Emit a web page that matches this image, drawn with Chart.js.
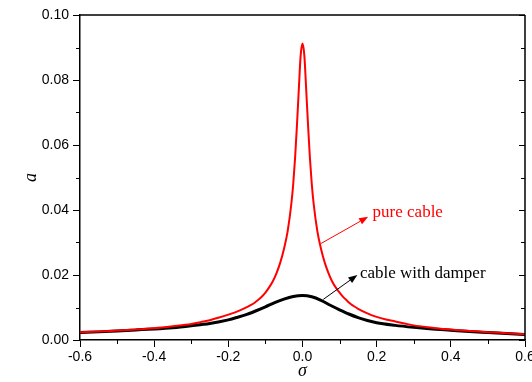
<!DOCTYPE html>
<html><head><meta charset="utf-8">
<script src="https://cdn.jsdelivr.net/npm/chart.js@4/dist/chart.umd.min.js"></script>
<style>html,body{margin:0;padding:0;background:#fff}</style>
</head><body>
<canvas id="c" width="532" height="382"></canvas>
<script>
// ---- data ----
const sigmaPure = [-0.6,-0.55,-0.5,-0.45,-0.4,-0.35,-0.3,-0.275,-0.25,-0.225,-0.2,-0.175,-0.15,-0.14,-0.13,-0.12,-0.11,-0.1,-0.09,-0.08,-0.07,-0.06,-0.05,-0.04,-0.03,-0.025,-0.02,-0.015,-0.01,-0.005,0,
  0.005,0.01,0.015,0.02,0.025,0.03,0.04,0.05,0.06,0.07,0.08,0.09,0.1,0.11,0.12,0.13,0.14,0.15,0.175,0.2,0.225,0.25,0.275,0.3,0.35,0.4,0.45,0.5,0.55,0.6];
const aPure = [0.0024,0.0026,0.0029,0.0032,0.0036,0.0042,0.0049,0.0055,0.0061,0.0069,0.0078,0.0088,0.0101,0.0107,0.0114,0.0123,0.0133,0.0146,0.0162,0.0181,0.0206,0.0238,0.0280,0.0335,0.0420,0.0480,0.0560,0.0660,0.0770,0.0875,0.0912,
  0.0875,0.0770,0.0660,0.0560,0.0480,0.0420,0.0335,0.0280,0.0238,0.0206,0.0180,0.0161,0.0146,0.0132,0.0121,0.0111,0.0103,0.0096,0.0082,0.0071,0.0063,0.0057,0.0051,0.0045,0.0038,0.0032,0.0028,0.0024,0.0021,0.0018];
const sigmaDamper = [-0.6,-0.55,-0.5,-0.45,-0.4,-0.35,-0.3,-0.25,-0.2,-0.175,-0.15,-0.125,-0.1,-0.075,-0.05,-0.025,0,0.025,0.05,0.075,0.1,0.125,0.15,0.175,0.2,0.25,0.3,0.35,0.4,0.45,0.5,0.55,0.6];
const aDamper = [0.0023,0.0025,0.0028,0.0031,0.0034,0.0038,0.0044,0.0051,0.0062,0.0070,0.0079,0.0090,0.0102,0.0115,0.0126,0.0134,0.0137,0.0133,0.0122,0.0107,0.0093,0.0080,0.0069,0.0060,0.0053,0.0045,0.0039,0.0034,0.0030,0.0026,0.0023,0.0020,0.0017];
const xTicksMinor = [-0.5,-0.3,-0.1,0.1,0.3,0.5];
const yTicksMinor = [0.01,0.03,0.05,0.07,0.09];
const yTicksMajor = [0,0.02,0.04,0.06,0.08,0.1];
// annotation labels: text, colour, arrow tail (sigma,a), arrow head (sigma,a), text anchor (sigma,a)
const labelTexts = ['pure cable','cable with damper'];
const labelColors = ['#ff0000','#000000'];
const arrowTails = [[0.050,0.0297],[0.056,0.0125]];
const arrowHeads = [[0.177,0.0379],[0.148,0.0200]];
const textAnchors = [[0.189,0.0391],[0.155,0.0203]];

const toPts = (xs, ys) => xs.map((x,i)=>({x, y: ys[i]}));

const framePlugin = {
  id: 'frame',
  afterDraw(chart) {
    const {ctx, chartArea: ca, scales: {x, y}} = chart;
    ctx.save();
    ctx.strokeStyle = '#000';
    ctx.lineWidth = 1.5;
    ctx.beginPath();
    ctx.moveTo(ca.left, ca.top); ctx.lineTo(ca.right, ca.top);
    ctx.moveTo(ca.right, ca.top); ctx.lineTo(ca.right, ca.bottom);
    ctx.stroke();
    ctx.lineWidth = 1;
    ctx.beginPath();
    xTicksMinor.forEach(v => { const px = Math.round(x.getPixelForValue(v))+0.5; ctx.moveTo(px, ca.bottom); ctx.lineTo(px, ca.bottom+4); });
    yTicksMinor.forEach(v => { const py = Math.round(y.getPixelForValue(v))+0.5; ctx.moveTo(ca.left, py); ctx.lineTo(ca.left-4, py); ctx.moveTo(ca.right, py); ctx.lineTo(ca.right-4, py); });
    yTicksMajor.forEach(v => { const py = Math.round(y.getPixelForValue(v))+0.5; ctx.moveTo(ca.right, py); ctx.lineTo(ca.right-6, py); });
    ctx.stroke();
    labelTexts.forEach((t, i) => {
      const c = labelColors[i];
      const x0 = x.getPixelForValue(arrowTails[i][0]), y0 = y.getPixelForValue(arrowTails[i][1]);
      const x1 = x.getPixelForValue(arrowHeads[i][0]), y1 = y.getPixelForValue(arrowHeads[i][1]);
      const ang = Math.atan2(y1-y0, x1-x0);
      const hl = 9, hw = 3.5;
      const bx = x1 - hl*Math.cos(ang), by = y1 - hl*Math.sin(ang);
      ctx.strokeStyle = c; ctx.fillStyle = c; ctx.lineWidth = 1;
      ctx.beginPath(); ctx.moveTo(x0, y0); ctx.lineTo(bx, by); ctx.stroke();
      ctx.beginPath();
      ctx.moveTo(x1, y1);
      ctx.lineTo(bx + hw*Math.sin(ang), by - hw*Math.cos(ang));
      ctx.lineTo(bx - hw*Math.sin(ang), by + hw*Math.cos(ang));
      ctx.closePath(); ctx.fill();
      ctx.font = '17px "Liberation Serif", "Times New Roman", serif';
      ctx.textAlign = 'left'; ctx.textBaseline = 'middle';
      ctx.fillText(t, x.getPixelForValue(textAnchors[i][0]), y.getPixelForValue(textAnchors[i][1]));
    });
    ctx.restore();
  }
};

const tickFont = {family: '"Liberation Sans", Arial, sans-serif', size: 14};
const titleFont = {family: '"Liberation Serif", "Times New Roman", serif', size: 18, style: 'italic'};

new Chart(document.getElementById('c'), {
  type: 'scatter',
  data: {
    datasets: [
      {label: 'pure cable', data: toPts(sigmaPure, aPure), showLine: true, borderColor: '#ff0000', borderWidth: 2, pointRadius: 0, order: 0, cubicInterpolationMode: 'monotone'},
      {label: 'cable with damper', data: toPts(sigmaDamper, aDamper), showLine: true, borderColor: '#000000', borderWidth: 3, pointRadius: 0, order: 1, cubicInterpolationMode: 'monotone'}
    ]
  },
  options: {
    responsive: false,
    animation: false,
    devicePixelRatio: 1,
    layout: {padding: {left: 0, top: 15, right: 7, bottom: 0}},
    plugins: {legend: {display: false}, tooltip: {enabled: false}},
    scales: {
      x: {
        type: 'linear', min: -0.6, max: 0.6,
        ticks: {stepSize: 0.2, font: tickFont, color: '#000', padding: 2, maxRotation: 0, autoSkip: false,
          callback: v => (Math.abs(v) < 1e-9 ? 0 : v).toFixed(1)},
        grid: {drawOnChartArea: false, color: '#000', tickLength: 7, lineWidth: 1},
        border: {color: '#000', width: 1.5},
        title: {display: true, text: 'σ', font: titleFont, color: '#000', padding: {top: 0, bottom: 0}},
        afterFit: s => { s.height = 42; s.paddingLeft = 0; s.paddingRight = 0; }
      },
      y: {
        type: 'linear', min: 0, max: 0.1,
        ticks: {stepSize: 0.02, font: tickFont, color: '#000', padding: 4,
          callback: v => v.toFixed(2)},
        grid: {drawOnChartArea: false, color: '#000', tickLength: 7, lineWidth: 1},
        border: {color: '#000', width: 1.5},
        title: {display: true, text: 'a', font: titleFont, color: '#000', padding: {top: 20, bottom: 0}},
        afterFit: s => { s.width = 80; s.paddingTop = 0; s.paddingBottom = 0; }
      }
    }
  },
  plugins: [framePlugin]
});
</script>
</body></html>
